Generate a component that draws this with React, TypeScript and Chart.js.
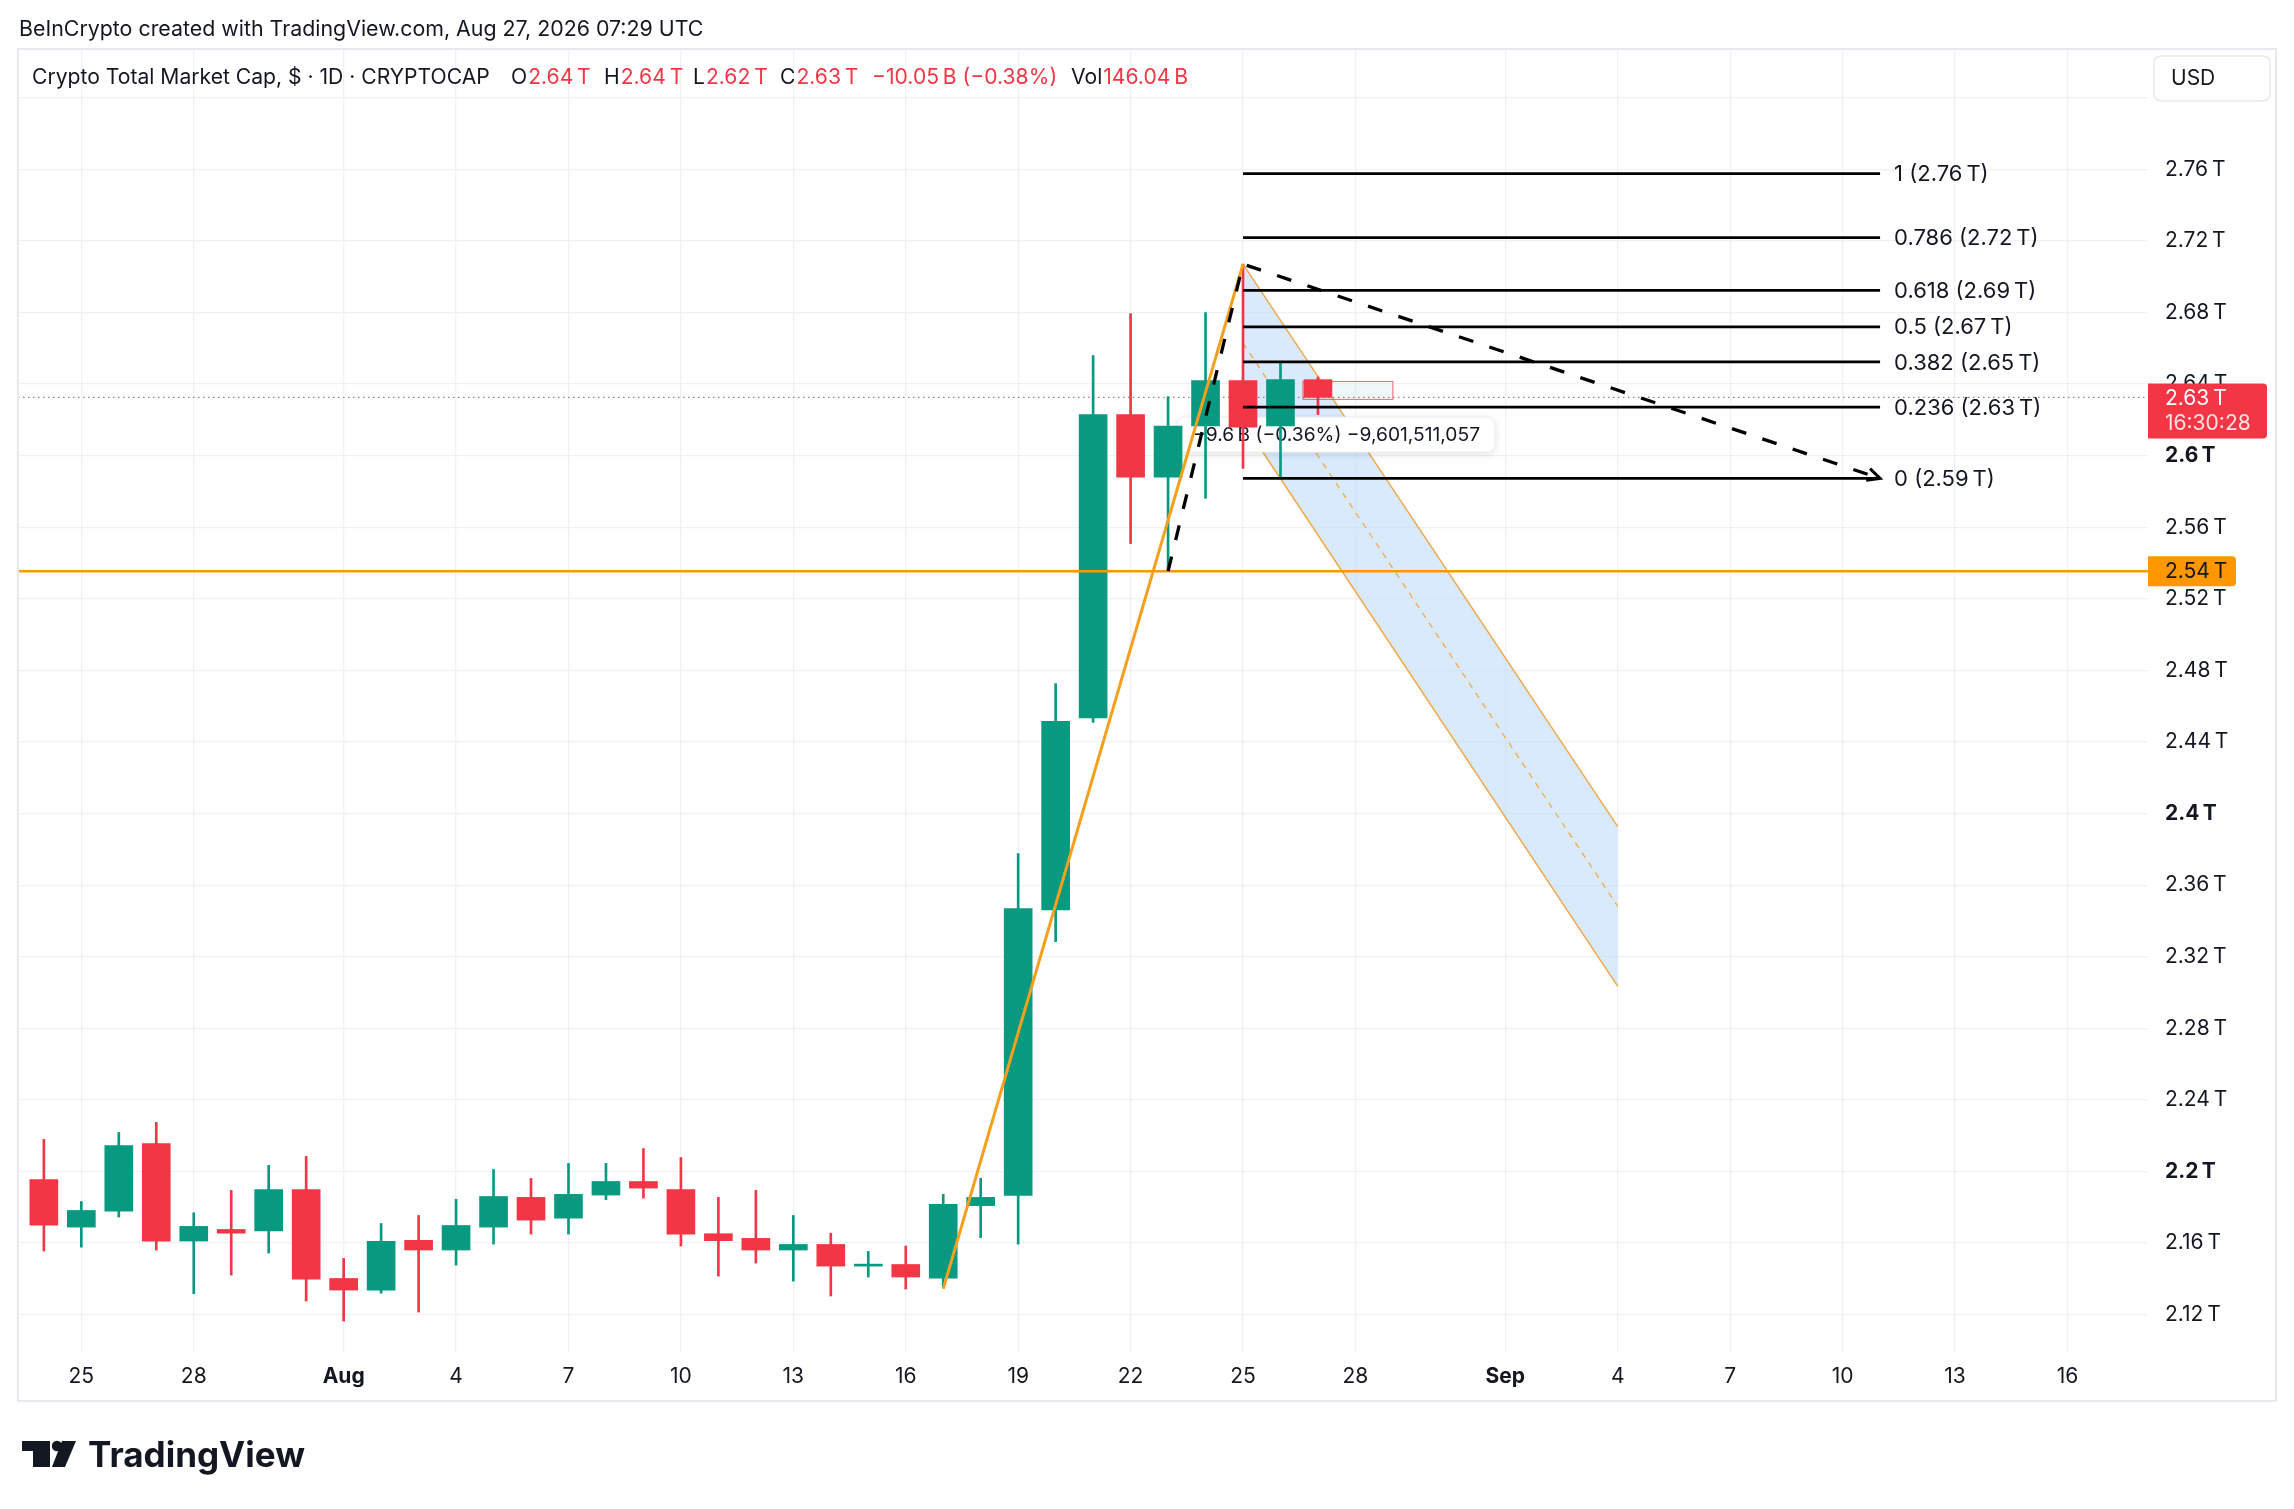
import React, { useEffect, useRef } from 'react';
import { Chart, registerables } from 'chart.js';

Chart.register(...registerables);

// ---------------- data ----------------
const candleDates = [
  'Jul 24', 'Jul 25', 'Jul 26', 'Jul 27', 'Jul 28', 'Jul 29', 'Jul 30', 'Jul 31',
  'Aug 1', 'Aug 2', 'Aug 3', 'Aug 4', 'Aug 5', 'Aug 6', 'Aug 7', 'Aug 8', 'Aug 9',
  'Aug 10', 'Aug 11', 'Aug 12', 'Aug 13', 'Aug 14', 'Aug 15', 'Aug 16', 'Aug 17',
  'Aug 18', 'Aug 19', 'Aug 20', 'Aug 21', 'Aug 22', 'Aug 23', 'Aug 24', 'Aug 25',
  'Aug 26', 'Aug 27',
];
const opens = [
  2.1955, 2.1689, 2.1778, 2.2156, 2.1611, 2.1676, 2.1667, 2.1899,
  2.1402, 2.1337, 2.1615, 2.1561, 2.1689, 2.1855, 2.1739, 2.1868, 2.1944,
  2.1899, 2.1652, 2.1626, 2.1561, 2.1592, 2.1471, 2.1480, 2.1404,
  2.1809, 2.1866, 2.3462, 2.4534, 2.6230, 2.5880, 2.6166, 2.6420,
  2.6166, 2.6425,
];
const highs = [
  2.2179, 2.1832, 2.2218, 2.2274, 2.1769, 2.1894, 2.2034, 2.2084,
  2.1514, 2.1709, 2.1754, 2.1844, 2.2011, 2.1961, 2.2045, 2.2045, 2.2128,
  2.2078, 2.1855, 2.1894, 2.1754, 2.1655, 2.1553, 2.1583, 2.1872,
  2.1962, 2.3776, 2.4726, 2.6559, 2.6794, 2.6330, 2.6800, 2.7071,
  2.6526, 2.6440,
];
const lows = [
  2.1555, 2.1577, 2.1745, 2.1561, 2.1317, 2.1421, 2.1544, 2.1276,
  2.1164, 2.1320, 2.1214, 2.1477, 2.1594, 2.1650, 2.1650, 2.1842, 2.1851,
  2.1583, 2.1415, 2.1488, 2.1387, 2.1304, 2.1410, 2.1343, 2.1354,
  2.1630, 2.1594, 2.3284, 2.4509, 2.5509, 2.5355, 2.5762, 2.5929,
  2.5875, 2.6230,
];
const closes = [
  2.1700, 2.1782, 2.2145, 2.1611, 2.1693, 2.1655, 2.1899, 2.1398,
  2.1337, 2.1609, 2.1561, 2.1698, 2.1860, 2.1728, 2.1872, 2.1944, 2.1907,
  2.1650, 2.1613, 2.1561, 2.1592, 2.1471, 2.1480, 2.1410, 2.1816,
  2.1855, 2.3469, 2.4516, 2.6230, 2.5880, 2.6166, 2.6420, 2.6159,
  2.6426, 2.6326,
];

// day index 0 = Jul 24
const xTickDays = [1, 4, 8, 11, 14, 17, 20, 23, 26, 29, 32, 35, 39, 42, 45, 48, 51, 54];
const xTickLabels = ['25', '28', 'Aug', '4', '7', '10', '13', '16', '19', '22', '25', '28', 'Sep', '4', '7', '10', '13', '16'];
const yTickValues = [2.12, 2.16, 2.2, 2.24, 2.28, 2.32, 2.36, 2.4, 2.44, 2.48, 2.52, 2.56, 2.6, 2.64, 2.68, 2.72, 2.76, 2.8];

const supportLevel = 2.5355;
const trendX = [24, 32];
const trendY = [2.1344, 2.7071];
const fibPathX = [30, 32, 49];
const fibPathY = [2.5355, 2.7071, 2.5873];
const fibRatios = ['1', '0.786', '0.618', '0.5', '0.382', '0.236', '0'];
const fibValues = [2.7577, 2.7219, 2.6924, 2.6720, 2.6524, 2.6272, 2.5873];
const fibStartX = 32;
const fibEndX = 49;
const channelX = [32, 42];
const channelTop = [2.7071, 2.3927];
const channelBottom = [2.6187, 2.3034];
const channelMid = [2.6629, 2.3481];
const rangeBoxX = [33.6, 36.0];
const rangeBoxY = [2.6315, 2.6415];
const measureBox = { x0: 30.24, x1: 38.72, y: 2.6118 };

const lastClose = 2.6326;
const titleText = 'Crypto Total Market Cap, $ · 1D · CRYPTOCAP';
const creditText = 'BeInCrypto created with TradingView.com, Aug 27, 2026 07:29 UTC';
const measureText = '−9.6\u202FB (−0.36%) −9,601,511,057';
const countdownText = '16:30:28';
const legendItems: [string, string][] = [
  ['O', '2.64\u202FT'],
  ['H', '2.64\u202FT'],
  ['L', '2.62\u202FT'],
  ['C', '2.63\u202FT'],
  ['', '−10.05\u202FB (−0.38%)'],
  ['Vol', '146.04\u202FB'],
];
const legendStarts = [511, 604, 693, 780, 872, 1071];

const X_MIN = -0.69;
const X_MAX = 56.15;
const Y_MIN = 2.0991;
const Y_MAX = 2.8273;

const GREEN = '#089981';
const RED = '#f23645';
const ORANGE = '#ff9800';
const TEXT = '#131722';
const GRID = '#eef1f6';
const FONT = 'Inter, "Noto Sans", "DejaVu Sans", sans-serif';
const NS = '\u202F';

function fmtY(v: number): string {
  const r1 = Math.round(v * 10) / 10;
  if (Math.abs(v - r1) < 1e-6) return r1.toFixed(1);
  return v.toFixed(2);
}

function roundRect(ctx: CanvasRenderingContext2D, x: number, y: number, w: number, h: number, r: number) {
  ctx.beginPath();
  ctx.moveTo(x + r, y);
  ctx.lineTo(x + w - r, y);
  ctx.quadraticCurveTo(x + w, y, x + w, y + r);
  ctx.lineTo(x + w, y + h - r);
  ctx.quadraticCurveTo(x + w, y + h, x + w - r, y + h);
  ctx.lineTo(x + r, y + h);
  ctx.quadraticCurveTo(x, y + h, x, y + h - r);
  ctx.lineTo(x, y + r);
  ctx.quadraticCurveTo(x, y, x + r, y);
  ctx.closePath();
}

function fitSize(ctx: CanvasRenderingContext2D, text: string, weight: string, target: number): number {
  ctx.font = `${weight} 20px ${FONT}`;
  const w = ctx.measureText(text).width;
  return (20 * target) / w;
}

const overlayPlugin: any = {
  id: 'overlay',
  beforeDraw(chart: any) {
    const ctx = chart.ctx as CanvasRenderingContext2D;
    ctx.save();
    ctx.fillStyle = '#ffffff';
    ctx.fillRect(0, 0, chart.width, chart.height);
    ctx.restore();
  },
  beforeDatasetDraw(chart: any, args: any) {
    if (args.index !== 12) return; // wick dataset: draw measure box right before candles
    const ctx = chart.ctx as CanvasRenderingContext2D;
    const xs = chart.scales.x;
    const ys = chart.scales.y;
    const x0 = xs.getPixelForValue(measureBox.x0);
    const x1 = xs.getPixelForValue(measureBox.x1);
    const yc = ys.getPixelForValue(measureBox.y);
    ctx.save();
    ctx.shadowColor = 'rgba(0,0,0,0.12)';
    ctx.shadowBlur = 8;
    ctx.shadowOffsetY = 2;
    roundRect(ctx, x0, yc - 17.5, x1 - x0, 35, 8);
    ctx.fillStyle = '#ffffff';
    ctx.fill();
    ctx.shadowColor = 'transparent';
    ctx.strokeStyle = '#eceef2';
    ctx.lineWidth = 1;
    ctx.stroke();
    ctx.fillStyle = TEXT;
    const ms = fitSize(ctx, measureText, 'normal', 287);
    ctx.font = `${ms}px ${FONT}`;
    ctx.textBaseline = 'middle';
    ctx.textAlign = 'left';
    ctx.fillText(measureText, x0 + 16, yc + 1);
    ctx.restore();
  },
  afterDatasetsDraw(chart: any) {
    const ctx = chart.ctx as CanvasRenderingContext2D;
    const xs = chart.scales.x;
    const ys = chart.scales.y;
    ctx.save();
    // small range box at last candle
    const rx0 = xs.getPixelForValue(rangeBoxX[0]);
    const rx1 = xs.getPixelForValue(rangeBoxX[1]);
    const ry0 = ys.getPixelForValue(rangeBoxY[1]);
    const ry1 = ys.getPixelForValue(rangeBoxY[0]);
    ctx.fillStyle = 'rgba(8,153,129,0.07)';
    ctx.fillRect(rx0 + 32, ry0 + 2, rx1 - rx0 - 32, ry1 - ry0 - 3);
    ctx.strokeStyle = 'rgba(242,54,69,0.8)';
    ctx.lineWidth = 1;
    ctx.strokeRect(rx0, ry0, rx1 - rx0, ry1 - ry0);

    // fib labels
    ctx.fillStyle = TEXT;
    ctx.font = `22px ${FONT}`;
    ctx.textBaseline = 'middle';
    ctx.textAlign = 'left';
    const lx = xs.getPixelForValue(fibEndX) + 14;
    fibValues.forEach((v, i) => {
      ctx.fillText(`${fibRatios[i]} (${v.toFixed(2)}${NS}T)`, lx, ys.getPixelForValue(v) + 1);
    });

    // arrow head at end of dashed path
    const ex = xs.getPixelForValue(fibPathX[2]);
    const ey = ys.getPixelForValue(fibPathY[2]);
    const sx = xs.getPixelForValue(fibPathX[1]);
    const sy = ys.getPixelForValue(fibPathY[1]);
    const ang = Math.atan2(ey - sy, ex - sx);
    ctx.strokeStyle = '#000';
    ctx.lineWidth = 3;
    ctx.beginPath();
    ctx.moveTo(ex - 14 * Math.cos(ang - 0.45), ey - 14 * Math.sin(ang - 0.45));
    ctx.lineTo(ex, ey);
    ctx.lineTo(ex - 14 * Math.cos(ang + 0.45), ey - 14 * Math.sin(ang + 0.45));
    ctx.stroke();
    ctx.restore();
  },
  afterDraw(chart: any) {
    const ctx = chart.ctx as CanvasRenderingContext2D;
    const ys = chart.scales.y;
    const area = chart.chartArea;
    ctx.save();
    // pane border
    ctx.strokeStyle = '#e6e9ef';
    ctx.lineWidth = 2;
    ctx.strokeRect(18, 49, 2276 - 18, 1401 - 49);

    // credit line
    ctx.textBaseline = 'middle';
    ctx.textAlign = 'left';
    ctx.fillStyle = TEXT;
    const cs = fitSize(ctx, creditText, 'normal', 685);
    ctx.font = `${cs}px ${FONT}`;
    ctx.fillText(creditText, 19, 30);

    // header legend
    const hs = fitSize(ctx, titleText, 'normal', 458);
    ctx.font = `${hs}px ${FONT}`;
    const hy = 78;
    ctx.fillStyle = TEXT;
    ctx.fillText(titleText, 32, hy);
    legendItems.forEach(([k, v], i) => {
      let x = legendStarts[i];
      if (k) {
        ctx.fillStyle = TEXT;
        ctx.fillText(k, x, hy);
        x += ctx.measureText(k).width + 1;
      }
      ctx.fillStyle = RED;
      ctx.fillText(v, x, hy);
    });

    // USD box
    roundRect(ctx, 2154, 56, 116, 45, 8);
    ctx.fillStyle = '#ffffff';
    ctx.fill();
    ctx.strokeStyle = '#e6e9ef';
    ctx.lineWidth = 1.5;
    ctx.stroke();
    ctx.fillStyle = TEXT;
    ctx.font = `21px ${FONT}`;
    ctx.fillText('USD', 2171, 79);

    // orange support price label
    const oy = ys.getPixelForValue(supportLevel);
    ctx.beginPath();
    ctx.moveTo(area.right, oy - 15);
    ctx.lineTo(area.right + 84, oy - 15);
    ctx.quadraticCurveTo(area.right + 88, oy - 15, area.right + 88, oy - 11);
    ctx.lineTo(area.right + 88, oy + 11);
    ctx.quadraticCurveTo(area.right + 88, oy + 15, area.right + 84, oy + 15);
    ctx.lineTo(area.right, oy + 15);
    ctx.closePath();
    ctx.fillStyle = ORANGE;
    ctx.fill();
    ctx.fillStyle = TEXT;
    ctx.fillText(`${supportLevel.toFixed(2)}${NS}T`, area.right + 17, oy + 1);

    // red last price label
    const py = ys.getPixelForValue(lastClose);
    ctx.beginPath();
    ctx.moveTo(area.right, py - 14);
    ctx.lineTo(area.right + 115, py - 14);
    ctx.quadraticCurveTo(area.right + 119, py - 14, area.right + 119, py - 10);
    ctx.lineTo(area.right + 119, py + 37);
    ctx.quadraticCurveTo(area.right + 119, py + 41, area.right + 115, py + 41);
    ctx.lineTo(area.right, py + 41);
    ctx.closePath();
    ctx.fillStyle = RED;
    ctx.fill();
    ctx.fillStyle = '#ffffff';
    ctx.fillText(`${lastClose.toFixed(2)}${NS}T`, area.right + 17, py + 1);
    ctx.fillStyle = 'rgba(255,255,255,0.85)';
    ctx.fillText(countdownText, area.right + 17, py + 26);

    // TradingView logo
    ctx.fillStyle = '#131722';
    ctx.fillRect(22, 1441, 28, 10);
    ctx.fillRect(33, 1441, 17, 26);
    ctx.beginPath();
    ctx.arc(57, 1446, 5.2, 0, Math.PI * 2);
    ctx.fill();
    ctx.beginPath();
    ctx.moveTo(62, 1441);
    ctx.lineTo(76, 1441);
    ctx.lineTo(65, 1467);
    ctx.lineTo(52, 1467);
    ctx.closePath();
    ctx.fill();
    const ts = fitSize(ctx, 'TradingView', 'bold', 217);
    ctx.font = `bold ${ts}px ${FONT}`;
    ctx.textBaseline = 'alphabetic';
    ctx.fillText('TradingView', 88, 1467);
    ctx.restore();
  },
};

function lineDs(xs: number[], ys: number[], color: string, width: number, order: number, dash: number[] = [], extra: any = {}) {
  return {
    type: 'line',
    data: xs.map((x, i) => ({ x, y: ys[i] })),
    borderColor: color,
    borderWidth: width,
    borderDash: dash,
    pointRadius: 0,
    fill: false,
    tension: 0,
    order,
    ...extra,
  };
}

export default function App() {
  const canvasRef = useRef<HTMLCanvasElement | null>(null);

  useEffect(() => {
    document.body.style.margin = '0';
    let chart: any = null;
    let cancelled = false;
    const build = () => {
      if (cancelled || !canvasRef.current) return;
      const idx = candleDates.map((_, i) => i);
      const colors = idx.map((i) => (closes[i] >= opens[i] ? GREEN : RED));
      const datasets: any[] = [
        // 0,1: channel fill
        lineDs(channelX, channelTop, '#f0a94a', 1.5, 20),
        lineDs(channelX, channelBottom, '#f0a94a', 1.5, 20, [], { fill: '-1', backgroundColor: 'rgba(187,217,251,0.55)' }),
        // 2: channel mid
        lineDs(channelX, channelMid, '#f0a94a', 1.3, 19, [6, 6]),
        // 3: last price dotted line
        lineDs([X_MIN, X_MAX], [lastClose, lastClose], '#9a7b82', 1.3, 18, [1.5, 3.5]),
      ];
      // 4..10: fib levels
      fibValues.forEach((v) => datasets.push(lineDs([fibStartX, fibEndX], [v, v], '#000000', 2.7, 3)));
      // 11: support
      datasets.push(lineDs([X_MIN, X_MAX], [supportLevel, supportLevel], ORANGE, 2.5, 3));
      // 12: wicks
      datasets.push({
        type: 'bar',
        data: idx.map((i) => ({ x: i, y: [lows[i], highs[i]] })),
        backgroundColor: colors,
        barThickness: 2,
        grouped: false,
        borderWidth: 0,
        order: 6,
      });
      // 13: bodies
      datasets.push({
        type: 'bar',
        data: idx.map((i) => ({ x: i, y: [opens[i], closes[i]] })),
        backgroundColor: colors,
        barThickness: 28,
        grouped: false,
        borderWidth: 0,
        minBarLength: 2,
        order: 5,
      });
      // 14: trend line, 15: fib path dashed
      datasets.push(lineDs(trendX, trendY, '#f5a01c', 3, 2));
      datasets.push(lineDs(fibPathX, fibPathY, '#000000', 3.3, 1, [15, 17]));

      chart = new Chart(canvasRef.current, {
        type: 'bar',
        data: { datasets },
        options: {
          animation: false,
          responsive: false,
          maintainAspectRatio: false,
          devicePixelRatio: 1,
          events: [],
          layout: { padding: { left: 18, top: 49, right: 18, bottom: 108 } },
          plugins: { legend: { display: false }, tooltip: { enabled: false } },
          scales: {
            x: {
              type: 'linear',
              min: X_MIN,
              max: X_MAX,
              offset: false,
              grid: { color: GRID, lineWidth: 1.3, drawTicks: false, offset: false },
              border: { display: false },
              afterBuildTicks: (s: any) => {
                s.ticks = xTickDays.map((v) => ({ value: v }));
              },
              afterFit: (s: any) => {
                s.height = 49;
              },
              ticks: {
                autoSkip: false,
                maxRotation: 0,
                padding: 12,
                color: TEXT,
                font: (c: any) => {
                  const k = xTickDays.indexOf(c.tick ? c.tick.value : -99);
                  const lbl = k >= 0 ? xTickLabels[k] : '';
                  return { family: FONT, size: 21, weight: lbl === 'Aug' || lbl === 'Sep' ? 'bold' : 'normal' };
                },
                callback: (v: any) => {
                  const k = xTickDays.indexOf(Number(v));
                  return k >= 0 ? xTickLabels[k] : '';
                },
              },
            },
            y: {
              type: 'linear',
              position: 'right',
              min: Y_MIN,
              max: Y_MAX,
              grid: { color: GRID, lineWidth: 1.3, drawTicks: false },
              border: { display: false },
              afterBuildTicks: (s: any) => {
                s.ticks = yTickValues.map((v) => ({ value: v }));
              },
              afterFit: (s: any) => {
                s.width = 128;
              },
              ticks: {
                padding: 17,
                color: TEXT,
                font: (c: any) => {
                  const v = c.tick ? c.tick.value : 0;
                  const bold = fmtY(v).length === 3;
                  return { family: FONT, size: 21, weight: bold ? 'bold' : 'normal' };
                },
                callback: (v: any) => {
                  const n = Number(v);
                  if (n > 2.79) return '';
                  return `${fmtY(n)}${NS}T`;
                },
              },
            },
          },
        } as any,
        plugins: [overlayPlugin],
      } as any);
    };
    const fontsAny: any = (document as any).fonts;
    if (fontsAny && fontsAny.load) {
      Promise.all([
        fontsAny.load(`21px Inter`),
        fontsAny.load(`bold 21px Inter`),
      ]).then(build, build);
    } else {
      build();
    }
    return () => {
      cancelled = true;
      if (chart) chart.destroy();
    };
  }, []);

  return (
    <div style={{ position: 'fixed', left: 0, top: 0, width: 2294, height: 1509, background: '#fff' }}>
      <canvas ref={canvasRef} width={2294} height={1509} style={{ display: 'block', width: 2294, height: 1509 }} />
    </div>
  );
}
